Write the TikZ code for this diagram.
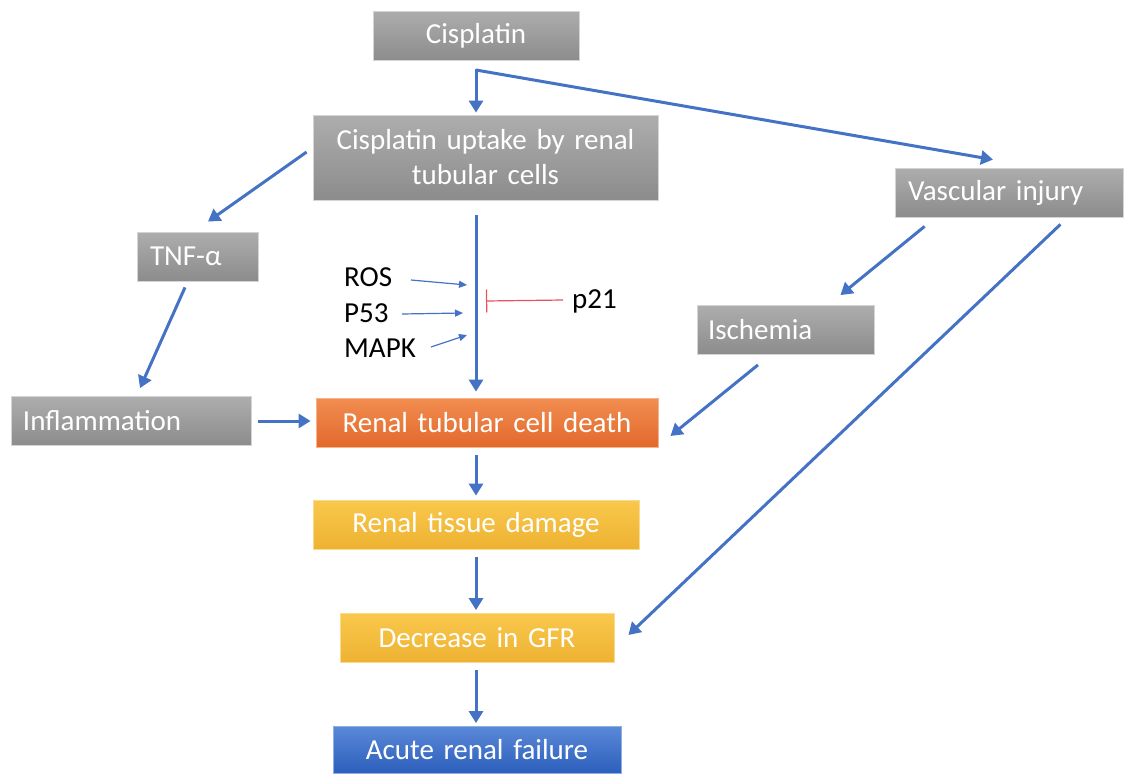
\documentclass[tikz,border=0pt]{standalone}
\usepackage{fontspec}
\setmainfont{Carlito}
\usetikzlibrary{arrows.meta,calc}
\definecolor{ablue}{HTML}{4472C4}
\definecolor{ared}{HTML}{E8505B}
\definecolor{gTop}{HTML}{ADADAD}
\definecolor{gBot}{HTML}{8C8C8C}
\definecolor{gEdge}{HTML}{D4D4D4}
\definecolor{oTop}{HTML}{F28D50}
\definecolor{oBot}{HTML}{E2692C}
\definecolor{oEdge}{HTML}{F6B48C}
\definecolor{yTop}{HTML}{F9C84C}
\definecolor{yBot}{HTML}{EEB232}
\definecolor{yEdge}{HTML}{FADB8E}
\definecolor{bTop}{HTML}{5A88D8}
\definecolor{bBot}{HTML}{2C5FBC}
\definecolor{bEdge}{HTML}{8FAEE3}
\tikzset{
  box/.style={rectangle, line width=0.8pt, text=white, inner ysep=0pt,
    font=\fontsize{29}{35}\selectfont, minimum height=49pt},
  gray/.style={box, top color=gTop, bottom color=gBot, draw=gEdge},
  orange/.style={box, top color=oTop, bottom color=oBot, draw=oEdge},
  yellow/.style={box, top color=yTop, bottom color=yBot, draw=yEdge},
  bluebox/.style={box, top color=bTop, bottom color=bBot, draw=bEdge},
  lbl/.style={inner sep=0pt, anchor=base west, font=\fontsize{29}{35}\selectfont},
  arr/.style={draw=ablue, line width=3pt, -{Triangle[length=12pt,width=14pt]}},
  thin/.style={draw=ablue, line width=1.2pt, -{Triangle[length=8pt,width=7pt]}},
  inhib/.style={draw=ared, line width=1.2pt, -{Bar[width=23pt,line width=1.2pt]}}
}
\begin{document}
\begin{tikzpicture}[x=1pt,y=-1pt]
\useasboundingbox (0,0) rectangle (1125,774);
% nodes
\node[gray, inner xsep=10pt, text width=186pt, align=center] (cis) at (476,35.5) {Cisplatin};
\node[gray, inner xsep=8pt, text width=329pt, align=center, minimum height=85pt] (upt) at (485.5,157.5) {Cisplatin uptake by renal\\tubular cells};
\node[gray, inner xsep=13pt, text width=95pt, align=left] (tnf) at (197.5,256.5) {TNF-α};
\node[gray, inner xsep=13pt, text width=202pt, align=left] (vas) at (1009,192.5) {Vascular injury};
\node[gray, inner xsep=11pt, text width=155pt, align=left] (isch) at (785.5,330) {Ischemia};
\node[gray, inner xsep=12pt, text width=216pt, align=left] (infl) at (131,421) {Inflammation};
\node[orange, inner xsep=10pt, text width=322pt, align=center] (rtcd) at (487,422.5) {Renal tubular cell death};
\node[yellow, inner xsep=10pt, text width=306pt, align=center] (rtd) at (476,524.5) {Renal tissue damage};
\node[yellow, inner xsep=10pt, text width=254pt, align=center] (gfr) at (477,638) {Decrease in GFR};
\node[bluebox, inner xsep=10pt, text width=268pt, align=center, minimum height=47pt] (arf) at (477,750) {Acute renal failure};
% labels
\node[lbl] (ros) at (344,286) {ROS};
\node[lbl] (p53) at (344,322) {P53};
\node[lbl] (mapk) at (344,357) {MAPK};
\node[lbl] (p21) at (572,308) {p21};
% coordinates
\coordinate (split) at (476,70);
\coordinate (vasin) at ($(vas.north)+(-16,-8)$);
\coordinate (mtop) at ($(upt.south -| split)+(0,15)$);
\coordinate (mbot) at ($(rtcd.north -| split)+(0,-6)$);
\coordinate (rosstart) at (411,280);
\coordinate (rosend) at (467,285);
\coordinate (p53start) at (402,314);
\coordinate (p53end) at (463,313);
\coordinate (mapkstart) at (431,347);
\coordinate (mapkend) at (467,335);
\coordinate (p21start) at (563,300);
\coordinate (p21end) at (486,301);
% connectors
\draw[arr] ($(split)+(0,-1.5)$) -- ($(split |- upt.north)+(0,-2)$);
\draw[arr] (split) -- (vasin);
\draw[arr] ($(upt.west)+(-6,-5.5)$) -- ($(tnf.north)+(10.5,-10)$);
\draw[arr] ($(tnf.south)+(-12.5,6)$) -- ($(infl.north)+(9,-8)$);
\draw[arr] ($(infl.east)+(7,0)$) -- ($(rtcd.west)+(-5,-1.5)$);
\draw[arr] (mtop) -- (mbot);
\draw[arr] ($(rtd.north |- rtcd.south)+(0,8)$) -- ($(rtd.north)+(0,-4)$);
\draw[arr] ($(rtd.south)+(0,8)$) -- ($(rtd.south |- gfr.north)+(0,-3)$);
\draw[arr] ($(rtd.south |- gfr.south)+(0,7)$) -- ($(rtd.south |- arf.north)+(0,-3)$);
\draw[arr] ($(vas.south west)+(30,9)$) -- ($(isch.north east)+(-34,-10)$);
\draw[arr] ($(isch.south)+(-27.5,10)$) -- ($(rtcd.east)+(12,13.5)$);
\draw[arr] ($(vas.south east)+(-63,7)$) -- ($(gfr.east)+(14,-3)$);
\draw[thin] (rosstart) -- (rosend);
\draw[thin] (p53start) -- (p53end);
\draw[thin] (mapkstart) -- (mapkend);
\draw[inhib] (p21start) -- (p21end);
\end{tikzpicture}
\end{document}
